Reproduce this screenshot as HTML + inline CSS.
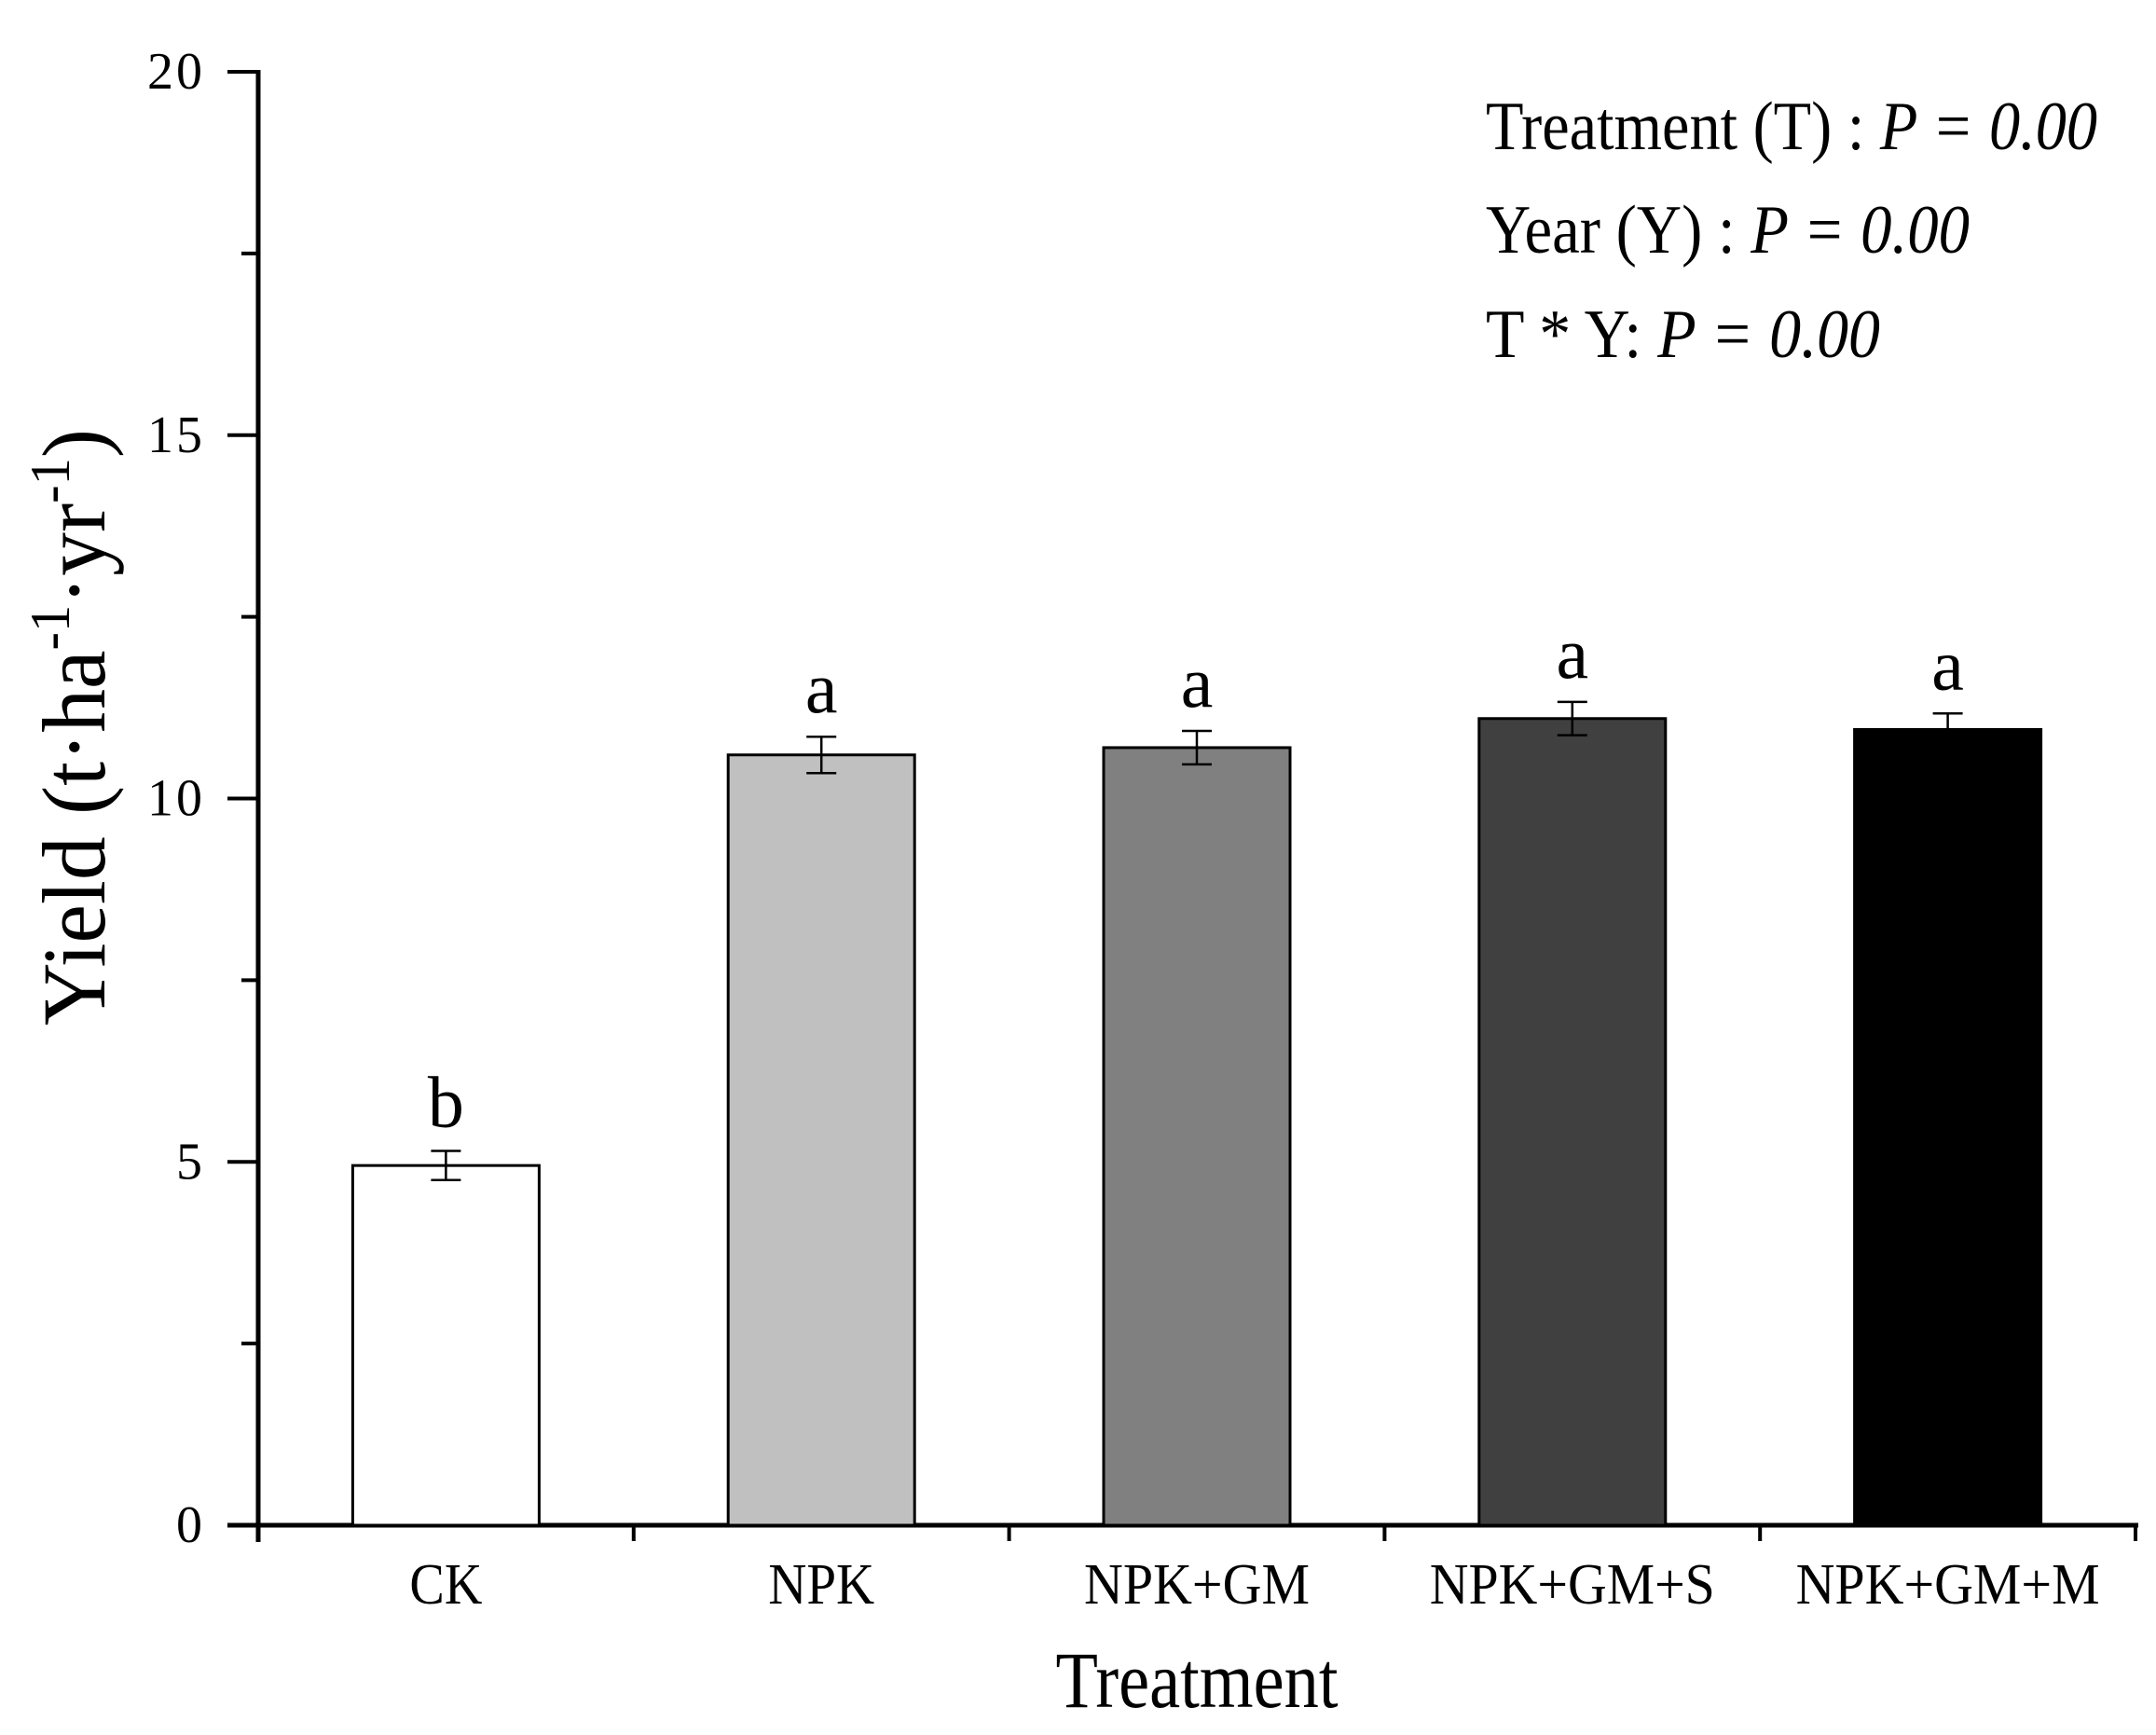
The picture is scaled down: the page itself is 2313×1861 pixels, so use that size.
<!DOCTYPE html>
<html><head><meta charset="utf-8"><style>
html,body{margin:0;padding:0;background:#fff}
svg{display:block}
text{font-family:"Liberation Serif",serif;fill:#000}
</style></head><body>
<svg id="chart" width="2313" height="1861" viewBox="0 0 2313 1861" xmlns="http://www.w3.org/2000/svg">
<g id="axes"></g>
<g id="bars"></g>
<text transform="translate(112,780) rotate(-90)" text-anchor="middle" font-size="96" textLength="640" lengthAdjust="spacingAndGlyphs">Yield (t·ha<tspan font-size="60" dy="-38">-1</tspan><tspan dy="38">·yr</tspan><tspan font-size="60" dy="-38">-1</tspan><tspan dy="38">)</tspan></text>
<text x="1284" y="1831" text-anchor="middle" font-size="86" textLength="303" lengthAdjust="spacingAndGlyphs">Treatment</text>
<text x="1594" y="160" font-size="74" textLength="656" lengthAdjust="spacingAndGlyphs">Treatment (T) : <tspan font-style="italic">P = 0.00</tspan></text>
<text x="1594" y="271" font-size="74" textLength="519" lengthAdjust="spacingAndGlyphs">Year (Y) : <tspan font-style="italic">P = 0.00</tspan></text>
<text x="1594" y="383" font-size="74" textLength="423" lengthAdjust="spacingAndGlyphs">T * Y: <tspan font-style="italic">P = 0.00</tspan></text>
</svg>
<script>
const categories = ["CK","NPK","NPK+GM","NPK+GM+S","NPK+GM+M"];
const values = [4.95, 10.6, 10.7, 11.1, 10.95];
const errors = [0.2, 0.25, 0.23, 0.23, 0.22];
const letters = ["b","a","a","a","a"];
const fills = ["#ffffff","#c0c0c0","#808080","#404040","#000000"];
const yTicks = [0,5,10,15,20];
const yMinor = [2.5,7.5,12.5,17.5];
const labelWidths = [78,114,242,306,326];

const NS="http://www.w3.org/2000/svg";
const X0=277, X1=2291, Y0=1636, Y1=77, YMAX=20;
const catW=(X1-X0)/categories.length;
const y = v => Y0-(v/YMAX)*(Y0-Y1);
const xc = i => X0+catW*(i+0.5);
function mk(tag,attrs,parent){const e=document.createElementNS(NS,tag);for(const k in attrs)e.setAttribute(k,attrs[k]);parent.appendChild(e);return e;}
const axes=document.getElementById('axes'), bars=document.getElementById('bars');

categories.forEach((c,i)=>{
  const bw=200, top=y(values[i]);
  const r=mk('rect',{x:xc(i)-bw/2,y:top,width:bw,height:Y0-top,fill:fills[i],stroke:'#000','stroke-width':3},bars);
  
  
  const hi=y(values[i]+errors[i]), lo=y(values[i]-errors[i]);
  const eb=mk('path',{d:`M${xc(i)},${hi}V${lo}M${xc(i)-16},${hi}H${xc(i)+16}M${xc(i)-16},${lo}H${xc(i)+16}`,stroke:'#000','stroke-width':2.5,fill:'none'},bars);
  
  
  const lt=mk('text',{x:xc(i),y:hi-26,'text-anchor':'middle','font-size':78},bars);
  lt.textContent=letters[i];
  
  
  const xl=mk('text',{x:xc(i),y:1720,'text-anchor':'middle','font-size':62,textLength:labelWidths[i],lengthAdjust:'spacingAndGlyphs'},axes);
  xl.textContent=c;
  
  
});
const ya=mk('line',{x1:X0,y1:Y1-2,x2:X0,y2:Y0+18,stroke:'#000','stroke-width':5},axes);


const xa=mk('line',{x1:X0-33,y1:Y0,x2:X1+3,y2:Y0,stroke:'#000','stroke-width':5},axes);


yTicks.forEach(t=>{
  mk('line',{x1:X0-33,y1:y(t),x2:X0,y2:y(t),stroke:'#000','stroke-width':4},axes);
  const tl=mk('text',{x:220,y:y(t)+18,'text-anchor':'end','font-size':56,'letter-spacing':'3'},axes);
  tl.textContent=t;
  
  
});
yMinor.forEach(t=>{mk('line',{x1:X0-18,y1:y(t),x2:X0,y2:y(t),stroke:'#000','stroke-width':4},axes);});
for(let i=0;i<=categories.length;i++){
  const x=X0+catW*i;
  mk('line',{x1:x,y1:Y0,x2:x,y2:Y0+17,stroke:'#000','stroke-width':4},axes);
}
</script>
</body></html>
